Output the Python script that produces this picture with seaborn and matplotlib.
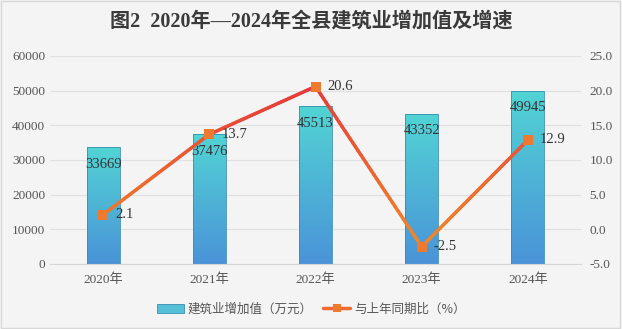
import numpy as np
import pandas as pd
import matplotlib
matplotlib.use("Agg")
import matplotlib.pyplot as plt
import seaborn as sns
from matplotlib.collections import LineCollection
from matplotlib.colors import LinearSegmentedColormap
from matplotlib.patches import Patch
from matplotlib.lines import Line2D

years = ["2020年", "2021年", "2022年", "2023年", "2024年"]
value_added = [33669, 37476, 45513, 43352, 49945]
growth = [2.1, 13.7, 20.6, -2.5, 12.9]
title = "图2  2020年—2024年全县建筑业增加值及增速"
bar_name = "建筑业增加值（万元）"
line_name = "与上年同期比（%）"

sns.set_theme(style="white")
SERIF = ["Liberation Serif", "Noto Sans CJK SC", "DejaVu Sans"]
plt.rcParams["font.family"] = SERIF

BG = "#f4f4f4"
fig = plt.figure(figsize=(6.22, 3.29), dpi=100, facecolor=BG)
fig.patches.append(plt.Rectangle((0.002, 0.003), 0.995, 0.993, transform=fig.transFigure,
                                 fill=False, edgecolor="#d8d8d8", linewidth=1.0))
ax = fig.add_axes([50 / 622, 1 - 264 / 329, 531 / 622, 208 / 329])
ax.set_facecolor(BG)

df = pd.DataFrame({"year": years, "value": value_added})
sns.barplot(data=df, x="year", y="value", ax=ax, width=0.31, color="#55c0d8",
            edgecolor="#3a8fb0", linewidth=0.6, zorder=2)

cmap_bar = LinearSegmentedColormap.from_list("b", ["#4a93d8", "#52d4d4"])
grad = np.linspace(0, 1, 256).reshape(-1, 1)
for p in ax.patches:
    x0, y0 = p.get_x(), p.get_y()
    w, h = p.get_width(), p.get_height()
    im = ax.imshow(grad, extent=[x0, x0 + w, y0, y0 + h], origin="lower", cmap=cmap_bar,
                   aspect="auto", zorder=2.1)
    im.set_clip_path(p)
    p.set_facecolor("none")
    p.set_zorder(2.2)
    ax.annotate(f"{int(round(h))}", (x0 + w / 2, h), xytext=(0, -17), textcoords="offset pixels",
                ha="center", va="center", fontsize=10.5, color="#333333",
                family=["Liberation Serif"], zorder=5)
ax.set_ylim(0, 60000)
ax.set_xlim(-0.5, 4.5)

ax.set_yticks(np.arange(0, 60001, 10000))
ax.grid(axis="y", color="#e0e0e0", linewidth=0.8, zorder=0)
ax.set_axisbelow(True)
for s in ["top", "right", "left"]:
    ax.spines[s].set_visible(False)
ax.spines["bottom"].set_color("#d6d6d6")
ax.spines["bottom"].set_linewidth(0.8)
ax.set_xlabel("")
ax.set_ylabel("")
ax.tick_params(axis="both", length=0, labelsize=9.5, colors="#555555")
ax.tick_params(axis="x", pad=7)
for t in ax.get_xticklabels() + ax.get_yticklabels():
    t.set_fontfamily(SERIF)

ax2 = ax.twinx()
sns.lineplot(x=years, y=growth, ax=ax2, sort=False, marker="s", markersize=7,
             color="#ee6a2e", markeredgewidth=0, markerfacecolor="#ee7a30", linewidth=2.5, zorder=4)
ax2.set_ylim(-5, 25)
ax2.set_xlim(-0.5, 4.5)
ax2.set_yticks(np.arange(-5, 25.1, 5))
ax2.set_yticklabels([f"{v:.1f}" for v in np.arange(-5, 25.1, 5)])
for s in ["top", "right", "left", "bottom"]:
    ax2.spines[s].set_visible(False)
ax2.tick_params(axis="y", length=0, labelsize=9.5, colors="#555555", pad=6)
for t in ax2.get_yticklabels():
    t.set_fontfamily(SERIF)
ax2.set_ylabel("")
ax2.patch.set_visible(False)

# gradient re-colouring of the line along y (red at top, orange lower)
ln = ax2.lines[0]
xy = ln.get_xydata()
segs, cols = [], []
cmap_line = LinearSegmentedColormap.from_list("l", ["#f08a2a", "#e5393a"])
for (xa, ya), (xb, yb) in zip(xy[:-1], xy[1:]):
    n = 40
    xs = np.linspace(xa, xb, n + 1)
    ys = np.linspace(ya, yb, n + 1)
    for i in range(n):
        segs.append([(xs[i], ys[i]), (xs[i + 1], ys[i + 1])])
        cols.append(cmap_line(np.clip(((ys[i] + ys[i + 1]) / 2 + 2.5) / 23.1, 0, 1)))
lc = LineCollection(segs, colors=cols, linewidths=2.5, zorder=3.5, capstyle="round")
ax2.add_collection(lc)
ln.set_linestyle("none")
ln.set_zorder(4)

for i, (xv, yv) in enumerate(xy):
    ax2.annotate(f"{growth[i]}", (xv, yv), xytext=(12, 0), textcoords="offset pixels",
                 ha="left", va="center", fontsize=10.5, color="#333333",
                 family=["Liberation Serif"], zorder=6)

fig.text(0.5, 1 - 22 / 329, title, ha="center", va="center", fontsize=14.5, fontweight="bold",
         color="#3a3a3a", family=["Liberation Serif", "Noto Sans CJK SC", "DejaVu Sans"])

handles = [Patch(facecolor="#55c0d8", edgecolor="#3a8fb0", linewidth=0.6),
           Line2D([0], [0], color="#ee6a2e", linewidth=2.5, marker="s", markersize=6,
                  markerfacecolor="#ee7a30", markeredgewidth=0)]
leg = fig.legend(handles, [bar_name, line_name], loc="center", bbox_to_anchor=(0.5, 1 - 309 / 329),
                 ncol=2, frameon=False, handlelength=2.2, handletextpad=0.3,
                 columnspacing=0.8, prop={"family": ["Noto Sans CJK SC", "DejaVu Sans"], "size": 9})
for t in leg.get_texts():
    t.set_color("#555555")

fig.savefig("out.png", dpi=100, facecolor=BG)
